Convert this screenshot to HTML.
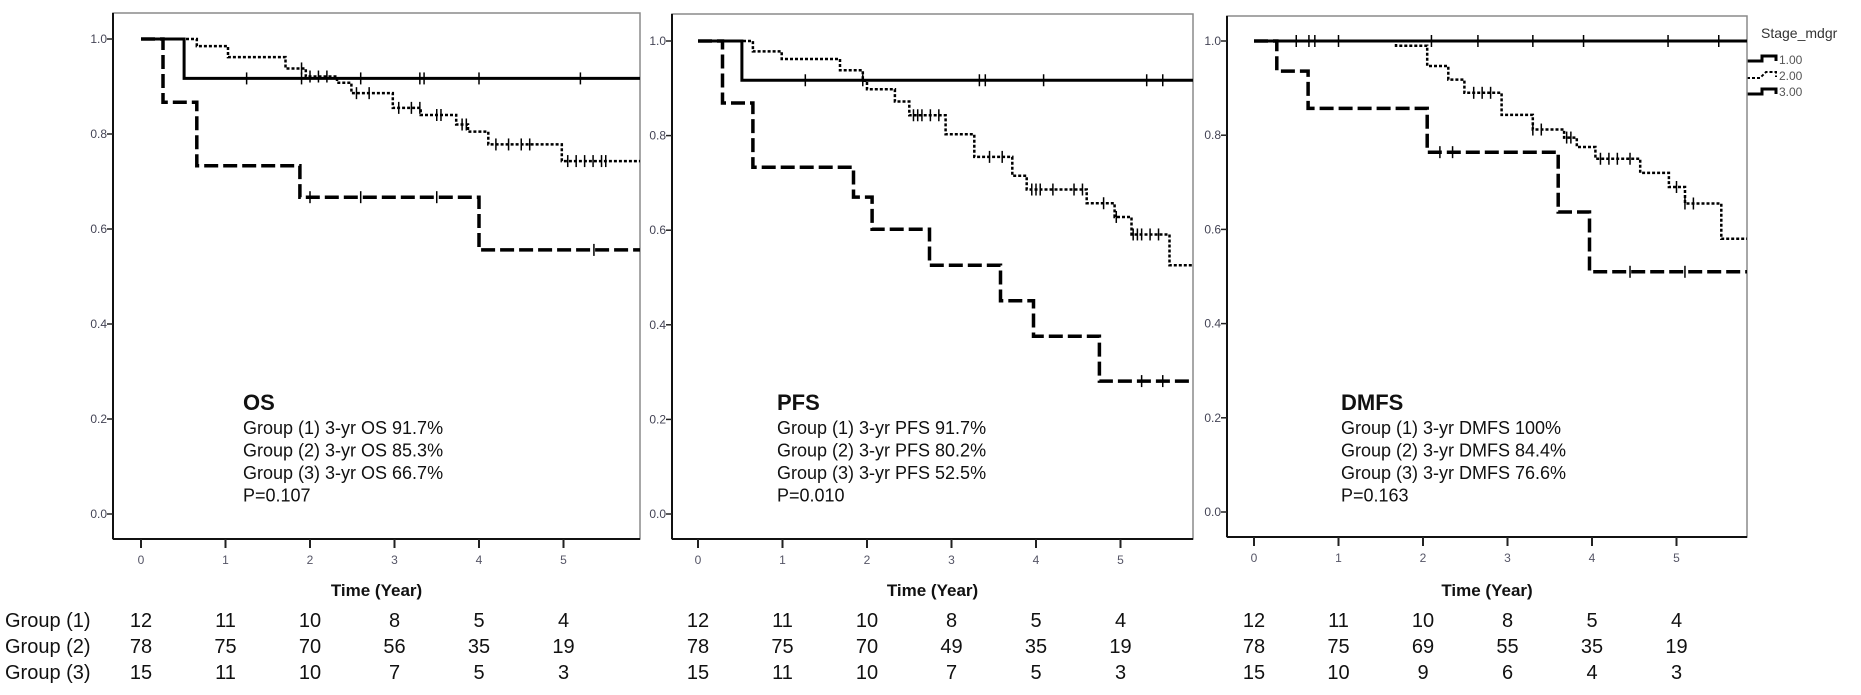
<!DOCTYPE html>
<html><head><meta charset="utf-8">
<style>
html,body{margin:0;padding:0;background:#fff;}
svg{display:block;font-family:"Liberation Sans",Arial,sans-serif;}
</style></head>
<body>
<svg id="chart" width="1861" height="695" viewBox="0 0 1861 695" xmlns="http://www.w3.org/2000/svg">
  <rect x="0" y="0" width="1861" height="695" fill="#fff"/>
  <g>
    <text x="1761" y="38" font-size="14" fill="#333">Stage_mdgr</text>
    <g>
      <path d="M1747 61 H1762 V56 H1776 V61" fill="none" stroke="#000" stroke-width="3"/>
      <text x="1779" y="64" font-size="12" fill="#555">1.00</text>
    </g>
    <g>
      <path d="M1747 78 H1760 L1766 72 H1776 V77" fill="none" stroke="#000" stroke-width="2" stroke-dasharray="3,2"/>
      <text x="1779" y="80" font-size="12" fill="#555">2.00</text>
    </g>
    <g>
      <path d="M1747 94 H1762 V89 H1776 V94" fill="none" stroke="#000" stroke-width="3"/>
      <text x="1779" y="96" font-size="12" fill="#555">3.00</text>
    </g>
  </g>
</svg>
<script>
// ---------- DATA ----------
const panelNames = ["os", "pfs", "dmfs"];
const yTickLabels = ["0.0", "0.2", "0.4", "0.6", "0.8", "1.0"];
const yTickValues = [0, 0.2, 0.4, 0.6, 0.8, 1.0];
const xTickLabels = ["0", "1", "2", "3", "4", "5"];
const xTickValues = [0, 1, 2, 3, 4, 5];

// OS
const osG1Times = [0.51];          const osG1Surv = [0.917];
const osG1Cens = [1.25, 1.9, 2.6, 3.3, 3.35, 4.0, 5.2];
const osG2Times = [0.66, 1.03, 1.71, 1.95, 2.32, 2.49, 2.98, 3.31, 3.73, 3.87, 4.11, 4.98];
const osG2Surv  = [0.985, 0.962, 0.938, 0.921, 0.908, 0.886, 0.855, 0.84, 0.82, 0.805, 0.778, 0.743];
const osG2Cens = [1.9, 2.0, 2.1, 2.2, 2.55, 2.7, 3.05, 3.2, 3.3, 3.5, 3.55, 3.8, 3.85, 4.2, 4.35, 4.5, 4.6, 5.05, 5.15, 5.25, 5.35, 5.45, 5.5];
const osG3Times = [0.26, 0.66, 1.88, 4.0];
const osG3Surv  = [0.867, 0.733, 0.667, 0.556];
const osG3Cens = [2.0, 2.6, 3.5, 5.36];

// PFS
const pfsG1Times = [0.52];         const pfsG1Surv = [0.917];
const pfsG1Cens = [1.27, 1.95, 3.33, 3.4, 4.09, 5.31, 5.5];
const pfsG2Times = [0.65, 0.99, 1.68, 1.95, 2.0, 2.33, 2.5, 2.93, 3.27, 3.72, 3.89, 4.6, 4.93, 5.13, 5.58];
const pfsG2Surv  = [0.978, 0.962, 0.938, 0.916, 0.898, 0.872, 0.843, 0.803, 0.755, 0.715, 0.686, 0.657, 0.628, 0.591, 0.526];
const pfsG2Cens = [2.55, 2.6, 2.65, 2.75, 2.85, 3.45, 3.6, 3.95, 4.0, 4.05, 4.2, 4.45, 4.55, 4.8, 4.95, 5.15, 5.2, 5.25, 5.35, 5.45];
const pfsG3Times = [0.29, 0.65, 1.84, 2.06, 2.74, 3.58, 3.97, 4.75];
const pfsG3Surv  = [0.869, 0.733, 0.67, 0.602, 0.526, 0.451, 0.376, 0.281];
const pfsG3Cens = [5.25, 5.5];

// DMFS
const dmfsG1Times = [];            const dmfsG1Surv = [];
const dmfsG1Cens = [0.5, 0.65, 0.72, 1.0, 2.1, 2.65, 3.3, 3.9, 4.9, 5.5];
const dmfsG2Times = [1.68, 2.05, 2.3, 2.49, 2.93, 3.3, 3.67, 3.82, 4.04, 4.57, 4.91, 5.1, 5.53];
const dmfsG2Surv  = [0.99, 0.947, 0.918, 0.89, 0.843, 0.812, 0.795, 0.775, 0.75, 0.72, 0.69, 0.655, 0.58];
const dmfsG2Cens = [2.6, 2.7, 2.8, 3.3, 3.4, 3.7, 3.75, 4.1, 4.2, 4.3, 4.45, 5.0, 5.1, 5.2];
const dmfsG3Times = [0.27, 0.64, 2.05, 3.6, 3.97];
const dmfsG3Surv  = [0.936, 0.857, 0.764, 0.637, 0.51];
const dmfsG3Cens = [2.2, 2.35, 4.45, 5.1];

// Annotations
const osNotes = ["OS", "Group (1) 3-yr OS 91.7%", "Group (2) 3-yr OS 85.3%", "Group (3) 3-yr OS 66.7%", "P=0.107"];
const pfsNotes = ["PFS", "Group (1) 3-yr PFS 91.7%", "Group (2) 3-yr PFS 80.2%", "Group (3) 3-yr PFS 52.5%", "P=0.010"];
const dmfsNotes = ["DMFS", "Group (1) 3-yr DMFS 100%", "Group (2) 3-yr DMFS 84.4%", "Group (3) 3-yr DMFS 76.6%", "P=0.163"];

// Numbers at risk
const riskGroupLabels = ["Group (1)", "Group (2)", "Group (3)"];
const osRisk1 = [12, 11, 10, 8, 5, 4];
const osRisk2 = [78, 75, 70, 56, 35, 19];
const osRisk3 = [15, 11, 10, 7, 5, 3];
const pfsRisk1 = [12, 11, 10, 8, 5, 4];
const pfsRisk2 = [78, 75, 70, 49, 35, 19];
const pfsRisk3 = [15, 11, 10, 7, 5, 3];
const dmfsRisk1 = [12, 11, 10, 8, 5, 4];
const dmfsRisk2 = [78, 75, 69, 55, 35, 19];
const dmfsRisk3 = [15, 10, 9, 6, 4, 3];

// ---------- LAYOUT ----------
const layouts = [
  {left:113, right:640, top:13, bottom:539, x0:141, ppy:84.5, y1:39, y0:514, noteX:243},
  {left:672, right:1193, top:14, bottom:539, x0:698, ppy:84.5, y1:41, y0:514, noteX:777},
  {left:1227, right:1747, top:16, bottom:537, x0:1254, ppy:84.5, y1:41, y0:512, noteX:1341}
];
const series = [
  [[osG1Times,osG1Surv,osG1Cens],[osG2Times,osG2Surv,osG2Cens],[osG3Times,osG3Surv,osG3Cens]],
  [[pfsG1Times,pfsG1Surv,pfsG1Cens],[pfsG2Times,pfsG2Surv,pfsG2Cens],[pfsG3Times,pfsG3Surv,pfsG3Cens]],
  [[dmfsG1Times,dmfsG1Surv,dmfsG1Cens],[dmfsG2Times,dmfsG2Surv,dmfsG2Cens],[dmfsG3Times,dmfsG3Surv,dmfsG3Cens]]
];
const notes = [osNotes, pfsNotes, dmfsNotes];
const risks = [[osRisk1,osRisk2,osRisk3],[pfsRisk1,pfsRisk2,pfsRisk3],[dmfsRisk1,dmfsRisk2,dmfsRisk3]];
const styles = [
  {w:3, dash:"none"},
  {w:2.5, dash:"3,2"},
  {w:3.5, dash:"14,5"}
];

const NS = "http://www.w3.org/2000/svg";
const svg = document.getElementById("chart");
function mk(tag, attrs, parent) {
  const e = document.createElementNS(NS, tag);
  for (const k in attrs) e.setAttribute(k, attrs[k]);
  (parent || svg).appendChild(e);
  return e;
}
function survAt(times, surv, t) {
  let s = 1;
  for (let i = 0; i < times.length; i++) if (times[i] <= t) s = surv[i];
  return s;
}

layouts.forEach((L, p) => {
  const xs = t => L.x0 + t * L.ppy;
  const ys = v => L.y0 - v * (L.y0 - L.y1);
  const endT = (L.right - L.x0) / L.ppy;
  const g = mk("g", {});
  
  

  // frame
  const fr = mk("rect", {x:L.left, y:L.top, width:L.right-L.left, height:L.bottom-L.top, fill:"none", stroke:"#8a8a8a", "stroke-width":1.5}, g);
  
  
  const ya = mk("line", {x1:L.left, y1:L.top, x2:L.left, y2:L.bottom, stroke:"#111", "stroke-width":2}, g);
  
  
  const xa = mk("line", {x1:L.left, y1:L.bottom, x2:L.right, y2:L.bottom, stroke:"#111", "stroke-width":2}, g);
  
  

  // y ticks
  yTickValues.forEach((v, i) => {
    const y = ys(v);
    const tk = mk("line", {x1:L.left-6, y1:y, x2:L.left, y2:y, stroke:"#222", "stroke-width":1.5}, g);
    
    
    const tl = mk("text", {x:L.left-6, y:y+4, "font-size":12, fill:"#445", "text-anchor":"end"}, g);
    tl.textContent = yTickLabels[i];
    
    
  });
  // x ticks
  xTickValues.forEach((v, i) => {
    const x = xs(v);
    const tk = mk("line", {x1:x, y1:L.bottom, x2:x, y2:L.bottom+9, stroke:"#222", "stroke-width":2}, g);
    
    
    const tl = mk("text", {x:x, y:L.bottom+25, "font-size":12, fill:"#556", "text-anchor":"middle"}, g);
    tl.textContent = xTickLabels[i];
    
    
  });
  const xt = mk("text", {x:(L.left+L.right)/2, y:596, "font-size":17, "font-weight":"bold", fill:"#111", "text-anchor":"middle"}, g);
  xt.textContent = "Time (Year)";
  
  

  // curves
  series[p].forEach((s, gi) => {
    const [times, surv, cens] = s;
    let d = "M" + xs(0) + " " + ys(1);
    for (let i = 0; i < times.length; i++) {
      d += " H" + xs(times[i]).toFixed(1) + " V" + ys(surv[i]).toFixed(1);
    }
    d += " H" + xs(endT).toFixed(1);
    const st = styles[gi];
    const path = mk("path", {d:d, fill:"none", stroke:"#000", "stroke-width":st.w, "stroke-dasharray":st.dash}, g);
    
    
    cens.forEach(t => {
      const x = xs(t), y = ys(survAt(times, surv, t));
      const c = mk("line", {x1:x, y1:y-6, x2:x, y2:y+6, stroke:"#000", "stroke-width":1.5}, g);
      
      
    });
  });

  // annotation
  const nt = notes[p];
  nt.forEach((line, i) => {
    const y = i === 0 ? 410 : 434 + (i - 1) * 22.5;
    const tx = mk("text", {x:L.noteX, y:y, "font-size": i === 0 ? 22 : 18, "font-weight": i === 0 ? "bold" : "normal", fill:"#111"}, g);
    tx.textContent = line;
    
    
  });

  // risk table
  risks[p].forEach((row, ri) => {
    row.forEach((n, ci) => {
      const t = mk("text", {x:xs(xTickValues[ci]), y:627 + ri*26, "font-size":20, fill:"#111", "text-anchor":"middle"}, g);
      t.textContent = n;
      
      
    });
  });
});

riskGroupLabels.forEach((lab, ri) => {
  const t = mk("text", {x:5, y:627 + ri*26, "font-size":20, fill:"#111"});
  t.textContent = lab;
  
  
});
</script>
</body></html>
